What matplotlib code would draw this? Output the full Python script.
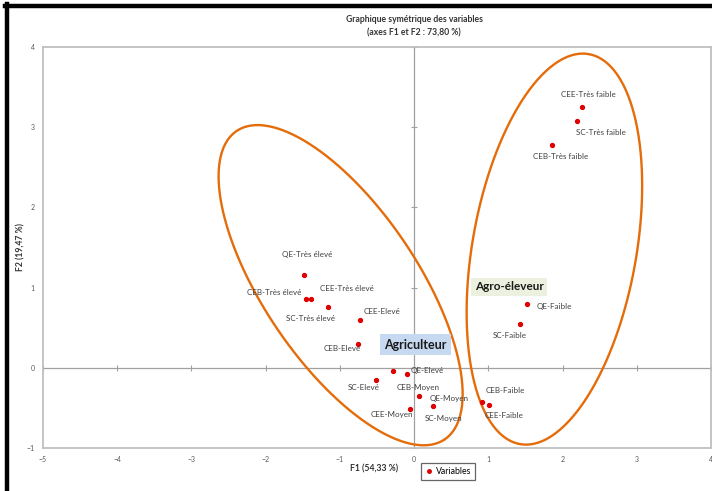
import numpy as np
import matplotlib
matplotlib.use("Agg")
import matplotlib.pyplot as plt

plt.rcParams['font.family'] = ['Lato', 'DejaVu Sans']

# Coordinates of the modalities on the first two factorial axes
labels = ["QE-Très élevé", "CEB-Très élevé", "CEE-Très élevé", "SC-Très élevé",
          "CEE-Elevé", "CEB-Elevé", "QE-Elevé", "CEB-Moyen", "SC-Elevé",
          "QE-Moyen", "SC-Moyen", "CEE-Moyen",
          "CEE-Très faible", "SC-Très faible", "CEB-Très faible",
          "QE-Faible", "SC-Faible", "CEB-Faible", "CEE-Faible"]
f1 = [-1.49, -1.46, -1.39, -1.16, -0.73, -0.75, -0.09, -0.29, -0.51,
      0.06, 0.25, -0.05, 2.26, 2.20, 1.86, 1.52, 1.43, 0.92, 1.01]
f2 = [1.16, 0.86, 0.86, 0.76, 0.59, 0.30, -0.08, -0.04, -0.15,
      -0.35, -0.48, -0.51, 3.25, 3.08, 2.78, 0.79, 0.54, -0.43, -0.46]

# label placement (offset in pixels from each point)
offsets = [(4, 20), (-32, 6), (36, 10), (-18, -12), (22, 9), (-16, -5),
           (20, 4), (26, -16), (-13, -8), (31, -3), (11, -12), (-19, -6),
           (7, 13), (24, -12), (8, -12), (27, -2), (-10, -11), (23, 12), (15, -11)]

xticks = [-5, -4, -3, -2, -1, 0, 1, 2, 3, 4]
yticks = [-1, 0, 1, 2, 3, 4]

W, H = 712, 491
fig = plt.figure(figsize=(W / 100, H / 100), dpi=100)
fig.patch.set_facecolor("white")
ax = fig.add_axes([43 / W, (H - 448) / H, 668 / W, 401 / H])
ax.set_xlim(-5, 4)
ax.set_ylim(-1, 4)

frame_col = "#bfbfbf"
for s in ax.spines.values():
    s.set_color(frame_col)
    s.set_linewidth(1.3)

ax.set_xticks(xticks)
ax.set_yticks(yticks)
ax.tick_params(length=0, labelsize=5, labelcolor="#595959", pad=6)

# zero axes with cross ticks
ax.axhline(0, color="#a0a0a0", lw=0.9, zorder=1)
ax.axvline(0, color="#a0a0a0", lw=0.9, zorder=1)
ax.plot(xticks, np.zeros(len(xticks)), ls="none", marker="|", ms=4,
        color="#a0a0a0", mew=0.8, zorder=1)
ax.plot(np.zeros(len(yticks)), yticks, ls="none", marker="_", ms=4,
        color="#a0a0a0", mew=0.8, zorder=1)

# points and their labels
ax.plot(f1, f2, ls="none", marker="o", ms=2.8, color="#e00000",
        mec="#e00000", zorder=4, label="Variables")
for lab, x, y, off in zip(labels, f1, f2, offsets):
    ax.annotate(lab, (x, y), xytext=off, textcoords="offset pixels",
                ha="center", va="center", fontsize=5.8, color="#404040", zorder=5)


def draw_ellipse(cx, cy, a_px, b_px, angle_deg):
    """Ellipse defined with screen-space semi-axes around a data-space centre."""
    p0 = ax.transData.transform((0, 0))
    p1 = ax.transData.transform((1, 1))
    sx, sy = p1[0] - p0[0], p1[1] - p0[1]
    t = np.linspace(0, 2 * np.pi, 400)
    th = np.deg2rad(angle_deg)
    u, v = a_px * np.cos(t), b_px * np.sin(t)
    X = u * np.cos(th) - v * np.sin(th)
    Y = u * np.sin(th) + v * np.cos(th)
    ax.plot(cx + X / sx, cy + Y / sy, color="#E46C0A", lw=1.7, zorder=3,
            solid_capstyle="round")


draw_ellipse(-0.99, 1.03, 186, 77, -56)
draw_ellipse(1.89, 1.48, 198, 82, 80)

# group names
ax.text(0.02, 0.29, "Agriculteur", ha="center", va="center", fontsize=9,
        fontweight="bold", color="#1a1a1a", zorder=6,
        bbox=dict(boxstyle="square,pad=0.35", fc="#c6d9f1", ec="none"))
ax.text(1.28, 1.01, "Agro-éleveur", ha="center", va="center", fontsize=8.5,
        fontweight="bold", color="#1a1a1a", zorder=6,
        bbox=dict(boxstyle="square,pad=0.3", fc="#ebf1de", ec="none"))

# titles
fig.text(414 / W, 1 - 20 / H, "Graphique symétrique des variables", ha="center",
         va="center", fontsize=6.2, fontweight="bold", color="#333333")
fig.text(414 / W, 1 - 33 / H, "(axes F1 et F2 : 73,80 %)", ha="center",
         va="center", fontsize=6.2, fontweight="bold", color="#333333")
fig.text(374 / W, 1 - 469 / H, "F1 (54,33 %)", ha="center", va="center",
         fontsize=6.2, fontweight="bold", color="#333333")
fig.text(21 / W, 1 - 247 / H, "F2 (19,47 %)", ha="center", va="center",
         fontsize=6.2, fontweight="bold", color="#333333", rotation=90)

leg = fig.legend(loc="center", bbox_to_anchor=(448 / W, 1 - 471.5 / H),
                 fontsize=6.3, frameon=True, fancybox=False, handlelength=0.8,
                 handletextpad=0.4, borderpad=0.5, markerscale=0.9)
leg.get_frame().set_edgecolor("#404040")
leg.get_frame().set_linewidth(0.9)

# page border of the document
fig.add_artist(plt.Line2D([7 / W, 7 / W], [0, 1 - 4 / H], transform=fig.transFigure,
                          color="black", lw=3.2))
fig.add_artist(plt.Line2D([5 / W, 1], [1 - 6 / H, 1 - 6 / H], transform=fig.transFigure,
                          color="black", lw=3.2))

fig.savefig("out.png", dpi=100)
